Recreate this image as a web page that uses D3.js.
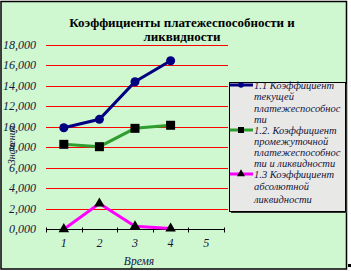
<!DOCTYPE html>
<html>
<head>
<meta charset="utf-8">
<script src="https://cdn.jsdelivr.net/npm/d3@7"></script>
<style>
  body { margin: 0; background: #fff; }
</style>
</head>
<body>
<div class="chart"></div>
<script>
var categories = ["1", "2", "3", "4", "5"];
var yTicks = [0, 2, 4, 6, 8, 10, 12, 14, 16, 18];

var tekushei = [9.90, 10.72, 14.39, 16.44];
var promezhut = [8.28, 8.05, 9.84, 10.14];
var absolut = [0.00, 2.50, 0.28, 0.07];

var legendLabels = [
  ["1.1 Коэффициент", "текущей", "платежеспособнос", "ти"],
  ["1.2. Коэффициент", "промежуточной", "платежеспособнос", "ти и ликвидности"],
  ["1.3 Коэффициент", "абсолютной", "ликвидности"]
];

var width = 351,
    height = 271;

var serif = "Liberation Serif";
var textColor = "#14143c";

var svg = d3.select(".chart").append("svg")
    .attr("width", width)
    .attr("height", height);

// frame
svg.append("rect")
    .attr("x", 1)
    .attr("y", 1.5)
    .attr("width", 345.5)
    .attr("height", 267.5)
    .attr("fill", "#d0f8d0")
    .attr("stroke", "#000")
    .attr("stroke-width", 1.5);

svg.append("rect")
    .attr("x", 348).attr("y", 264)
    .attr("width", 3).attr("height", 3)
    .attr("fill", "#000");

var x = d3.scaleBand()
    .domain(categories)
    .range([46, 224]);

var y = d3.scaleLinear()
    .domain([0, 18])
    .range([229.2, 44.7]);

// grid
svg.append("g")
    .selectAll("line")
    .data(yTicks.slice(1))
    .enter()
    .append("line")
    .attr("x1", 46)
    .attr("x2", 228)
    .attr("y1", function(d){ return Math.round(y(d)) + 0.5; })
    .attr("y2", function(d){ return Math.round(y(d)) + 0.5; })
    .attr("stroke", "#ff0000")
    .attr("stroke-width", 1);

// y title (sits partly under the tick labels, as in the original)
svg.append("text")
    .attr("transform", "translate(15,145) rotate(-90)")
    .attr("text-anchor", "middle")
    .style("font-family", serif)
    .attr("font-size", "10px")
    .attr("font-style", "italic")
    .attr("fill", textColor)
    .text("Значения");

// y labels
svg.append("g")
    .selectAll("text")
    .data(yTicks)
    .enter()
    .append("text")
    .attr("x", 36)
    .attr("y", function(d){ return y(d) + 4; })
    .attr("text-anchor", "end")
    .style("font-family", serif)
    .attr("font-size", "12px")
    .attr("font-style", "italic")
    .attr("fill", textColor)
    .text(function(d){ return d + ",000"; });

// x axis
var axisY = Math.round(y(0)) + 0.5;
svg.append("line")
    .attr("x1", 46).attr("x2", 224)
    .attr("y1", axisY).attr("y2", axisY)
    .attr("stroke", "#000")
    .attr("stroke-width", 1.2);

var edges = categories.map(function(c){ return x(c); }).concat([x.range()[1]]);
svg.append("g")
    .selectAll("line")
    .data(edges)
    .enter()
    .append("line")
    .attr("x1", function(d){ return Math.round(d) + 0.5; })
    .attr("x2", function(d){ return Math.round(d) + 0.5; })
    .attr("y1", axisY - 2)
    .attr("y2", axisY + 3)
    .attr("stroke", "#000");

svg.append("g")
    .selectAll("text")
    .data(categories)
    .enter()
    .append("text")
    .attr("x", function(d){ return x(d) + x.bandwidth() / 2; })
    .attr("y", 247)
    .attr("text-anchor", "middle")
    .style("font-family", serif)
    .attr("font-size", "12px")
    .attr("font-style", "italic")
    .attr("fill", textColor)
    .text(function(d){ return d; });

svg.append("text")
    .attr("x", 139)
    .attr("y", 265)
    .attr("text-anchor", "middle")
    .style("font-family", serif)
    .attr("font-size", "11.5px")
    .attr("font-style", "italic")
    .attr("fill", textColor)
    .text("Время");

// title
var titleLines = ["Коэффициенты платежеспособности и", "ликвидности"];
svg.append("g")
    .selectAll("text")
    .data(titleLines)
    .enter()
    .append("text")
    .attr("x", 182)
    .attr("y", function(d, i){ return 27 + i * 14; })
    .attr("text-anchor", "middle")
    .style("font-family", serif)
    .attr("font-size", "13px")
    .attr("font-weight", "bold")
    .attr("fill", "#000")
    .text(function(d){ return d; });

// series
var series = [
  { values: tekushei, color: "#000080", marker: "circle", markerFill: "#000080" },
  { values: promezhut, color: "#2f9e2f", marker: "square", markerFill: "#000" },
  { values: absolut, color: "#ff00ff", marker: "triangle", markerFill: "#000" }
];

var line = d3.line()
    .x(function(d, i){ return x(categories[i]) + x.bandwidth() / 2; })
    .y(function(d){ return y(d); });

function drawMarker(g, type, fill, size) {
  var sym = type === "circle" ? d3.symbolCircle : type === "square" ? d3.symbolSquare : d3.symbolTriangle;
  return g.append("path")
      .attr("d", d3.symbol().type(sym).size(size))
      .attr("fill", fill);
}

series.forEach(function(s){
  svg.append("path")
      .datum(s.values)
      .attr("d", line)
      .attr("fill", "none")
      .attr("stroke", s.color)
      .attr("stroke-width", 3);
});

series.forEach(function(s){
  s.values.forEach(function(v, i){
    var g = svg.append("g")
        .attr("transform", "translate(" + (x(categories[i]) + x.bandwidth() / 2) + "," + y(v) + ")");
    var size = s.marker === "circle" ? 64 : s.marker === "square" ? 81 : 48;
    drawMarker(g, s.marker, s.markerFill, size);
  });
});

// legend
var legend = svg.append("g");
legend.append("rect")
    .attr("x", 231).attr("y", 84)
    .attr("width", 116).attr("height", 129)
    .attr("fill", "#333");
legend.append("rect")
    .attr("x", 229.5).attr("y", 82.5)
    .attr("width", 116).attr("height", 129)
    .attr("fill", "#e8e8e6")
    .attr("stroke", "#000")
    .attr("stroke-width", 1);

var legendY = [85, 130, 174];
var lineGap = [[0, 11.5, 23, 34], [0, 11, 22, 33], [0, 12.5, 25]];

series.forEach(function(s, k){
  var ly = legendY[k];
  legend.append("line")
      .attr("x1", 230).attr("x2", 253)
      .attr("y1", ly).attr("y2", ly)
      .attr("stroke", s.color)
      .attr("stroke-width", 3);
  var g = legend.append("g").attr("transform", "translate(241," + ly + ")");
  var size = s.marker === "circle" ? 24 : s.marker === "square" ? 36 : 28;
  drawMarker(g, s.marker, s.markerFill, size);

  legend.append("g")
      .selectAll("text")
      .data(legendLabels[k])
      .enter()
      .append("text")
      .attr("x", 254)
      .attr("y", function(d, i){ return ly + 3.5 + lineGap[k][i]; })
      .style("font-family", serif)
      .attr("font-size", "10.5px")
      .attr("font-style", "italic")
      .attr("fill", textColor)
      .text(function(d){ return d; });
});
</script>
</body>
</html>
